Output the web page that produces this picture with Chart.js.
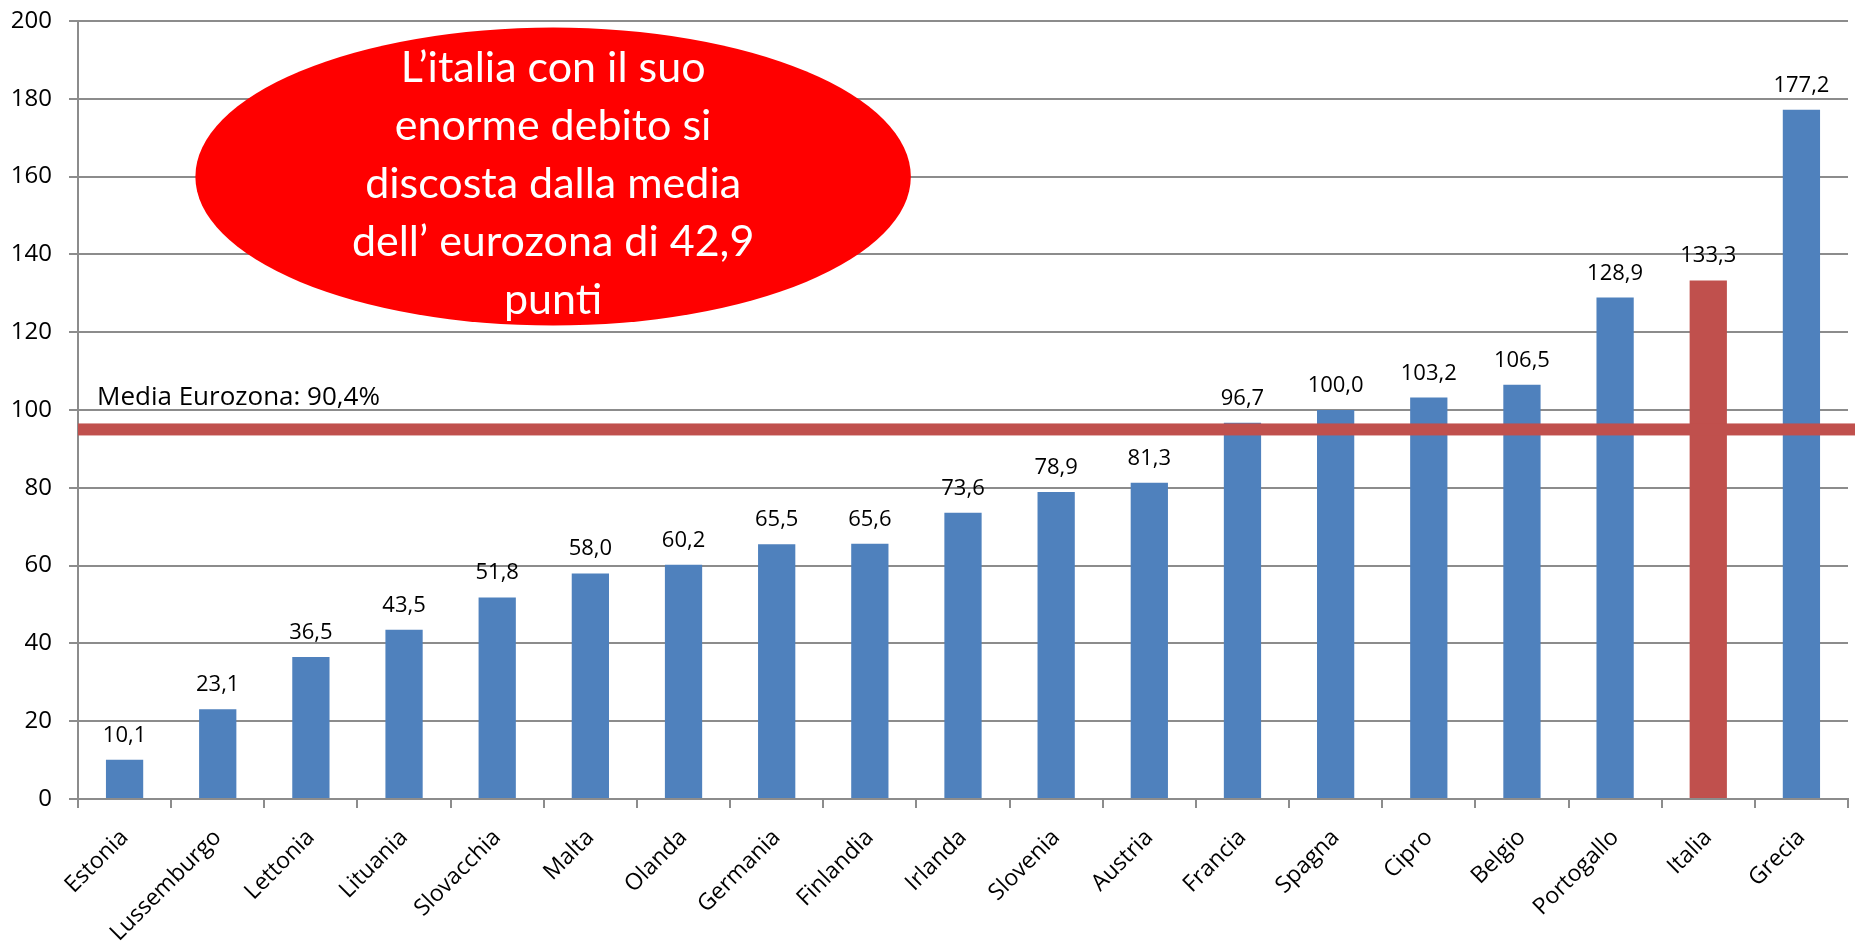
<!DOCTYPE html>
<html>
<head>
<meta charset="utf-8">
<script src="https://cdn.jsdelivr.net/npm/chart.js@4/dist/chart.umd.min.js"></script>
<style>
  html, body { margin: 0; padding: 0; background: #fff; }
  #wrap { width: 1855px; height: 945px; }
</style>
</head>
<body>
<div id="wrap"><canvas id="myChart" width="1855" height="945"></canvas></div>
<script>
// debt / GDP by country (eurozone)
const categories = ["Estonia", "Lussemburgo", "Lettonia", "Lituania", "Slovacchia", "Malta", "Olanda", "Germania", "Finlandia",
  "Irlanda", "Slovenia", "Austria", "Francia", "Spagna", "Cipro", "Belgio", "Portogallo", "Italia", "Grecia"];
const debtValues = [10.1, 23.1, 36.5, 43.5, 51.8, 58.0, 60.2, 65.5, 65.6, 73.6, 78.9, 81.3, 96.7, 100.0, 103.2, 106.5, 128.9, 133.3, 177.2];
const highlighted = ["Italia"];

const yMin = 0;
const yMax = 200;
const yStep = 20;

// horizontal average line (drawn where it sits in the picture) and its label
const mediaValue = 95;
const mediaLabel = "Media Eurozona: 90,4%";

// callout bubble
const calloutLines = ["L\u2019italia con il suo", "enorme debito si", "discosta dalla media", "dell\u2019 eurozona di 42,9", "punti"];

const BLUE = "#4F81BD";
const RED = "#C0504D";
const GRID = "#8c8c8c";

const fmt = (v) => v.toFixed(1).replace(".", ",");

const overlay = {
  id: "overlay",
  afterDatasetsDraw(chart) {
    const ctx = chart.ctx;
    const x = chart.scales.x;
    const y = chart.scales.y;
    const area = chart.chartArea;

    // average line on top of the bars
    const my = y.getPixelForValue(mediaValue);
    ctx.save();
    ctx.fillStyle = RED;
    ctx.fillRect(area.left, my - 6, chart.width - area.left, 12);

    ctx.fillStyle = "#000";
    ctx.font = "26px 'Open Sans'";
    ctx.textAlign = "left";
    ctx.textBaseline = "alphabetic";
    ctx.fillText(mediaLabel, area.left + 19, my - 24);

    // value labels
    ctx.font = "22px 'Open Sans'";
    ctx.textAlign = "center";
    ctx.textBaseline = "alphabetic";
    chart.getDatasetMeta(0).data.forEach((bar, i) => {
      ctx.fillText(fmt(debtValues[i]), bar.x, bar.y - 18);
    });

    // red ellipse with the message
    const cx = x.getPixelForValue(4.6);
    const cy = y.getPixelForValue(160);
    const rx = (x.getPixelForValue(1) - x.getPixelForValue(0)) * 3.84;
    const ry = y.getPixelForValue(0) - y.getPixelForValue(38.3);
    ctx.beginPath();
    ctx.ellipse(cx, cy, rx, ry, 0, 0, Math.PI * 2);
    ctx.fillStyle = "#FF0000";
    ctx.fill();

    ctx.fillStyle = "#fff";
    ctx.font = "43px Lato";
    ctx.textBaseline = "middle";
    const step = 58;
    calloutLines.forEach((line, i) => {
      ctx.fillText(line, cx, cy + 8 + (i - (calloutLines.length - 1) / 2) * step);
    });
    ctx.restore();
  }
};

new Chart(document.getElementById("myChart").getContext("2d"), {
  type: "bar",
  data: {
    labels: categories,
    datasets: [{
      data: debtValues,
      backgroundColor: categories.map((c) => (highlighted.includes(c) ? RED : BLUE)),
      barPercentage: 0.4,
      categoryPercentage: 1.0,
    }],
  },
  options: {
    responsive: false,
    animation: false,
    layout: { padding: { top: 21, right: 7, left: 0, bottom: 0 } },
    plugins: { legend: { display: false }, tooltip: { enabled: false } },
    scales: {
      x: {
        grid: { display: true, drawOnChartArea: false, drawTicks: true, tickLength: 9, color: GRID, lineWidth: 2 },
        border: { color: GRID, width: 2 },
        ticks: { color: "#000", font: { family: "'Open Sans'", size: 23 }, maxRotation: 45, minRotation: 45, padding: 16 },
        afterFit(scale) { scale.height = 146; scale.paddingLeft = 0; scale.paddingRight = 0; },
      },
      y: {
        min: yMin,
        max: yMax,
        ticks: { stepSize: yStep, color: "#000", font: { family: "'Open Sans'", size: 24 }, padding: 17 },
        grid: { color: GRID, lineWidth: 2, tickLength: 9 },
        border: { color: GRID, width: 2 },
        afterFit(scale) { scale.width = 78; scale.paddingTop = 0; scale.paddingBottom = 0; },
      },
    },
  },
  plugins: [overlay],
});
</script>
</body>
</html>
